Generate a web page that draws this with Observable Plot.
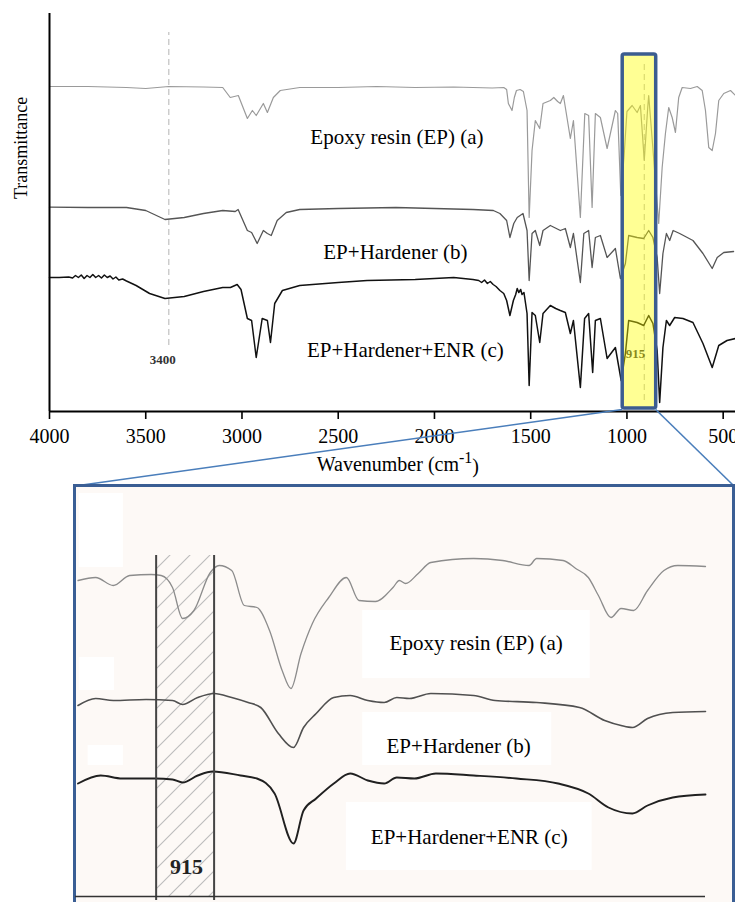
<!DOCTYPE html>
<html><head><meta charset="utf-8">
<script src="https://cdn.jsdelivr.net/npm/d3@7"></script>
<script src="https://cdn.jsdelivr.net/npm/@observablehq/plot@0.6"></script>
<style>
body{margin:0;background:#fff;}
#wrap{position:relative;width:735px;height:902px;overflow:hidden;background:#fff;}
#wrap > *{position:absolute;}
#wrap svg text{font-family:"Liberation Serif","Times New Roman",Times,serif !important;}
</style></head><body><div id="wrap"></div>
<script>
// ---------- DATA (wavenumber cm-1, offset transmittance a.u.) ----------
const epA = [[4000,325],[3800,325],[3600,324],[3500,323],[3380,325],[3200,324.5],[3100,324],[3061,314],[3019,316],[2972,293],[2946,301],[2926,296],[2889,308],[2868,299],[2837,314],[2801,321],[2700,324],[2500,324],[2300,325],[2100,324],[1900,324.5],[1700,323.5],[1640,324],[1625,322],[1616,308],[1597,301],[1585,314],[1574,321],[1555,322],[1538,320],[1519,301],[1508,194],[1493,261],[1476,291],[1453,283],[1436,308],[1398,311],[1380,314],[1360,310],[1346,308],[1330,316],[1294,273],[1278,291],[1242,194],[1219,298],[1199,296],[1181,204],[1164,298],[1138,294],[1103,263],[1060,301],[1048,298],[1032,216],[1015,255],[1000,300],[973,306],[947,299],[930,306],[910,251],[892,304],[887,316],[870,275],[835,188],[817,244],[800,278],[783,304],[765,294],[748,279],[731,314],[713,324],[670,323],[635,325],[609,321],[592,301],[575,264],[557,261],[540,278],[523,311],[497,318],[462,321],[436,316]];
const epHard = [[4000,204.3],[3800,204],[3600,204],[3500,201],[3400,192],[3300,194],[3200,198],[3100,201],[3035,200],[3020,202],[2972,181],[2950,179],[2921,168],[2889,181],[2868,178],[2848,176],[2817,191],[2770,199],[2700,202],[2500,203],[2200,204],[2000,203],[1800,202],[1694,201],[1660,198],[1625,191],[1608,174],[1588,188],[1570,194],[1540,198],[1519,181],[1508,131],[1493,178],[1476,181],[1453,166],[1436,181],[1398,186],[1346,181],[1320,183],[1294,164],[1278,178],[1242,129],[1224,178],[1199,181],[1181,144],[1164,174],[1138,176],[1103,154],[1060,163],[1034,133],[1008,148],[991,176],[947,174],[913,173],[887,181],[865,174],[843,154],[830,118],[813,158],[795,178],[778,171],[760,181],[726,178],[657,171],[605,158],[557,143],[531,154],[497,159],[446,160]];
const epHardEnr = [[4000,134],[3950,134],[3900,134.5],[3880,133.5],[3865,136],[3850,134],[3835,136.5],[3820,133],[3805,136],[3790,134],[3775,137],[3760,134],[3745,136],[3730,133.5],[3715,136.5],[3700,134],[3685,135.5],[3670,132.5],[3655,134.5],[3640,131.5],[3620,132.5],[3600,130.5],[3550,126],[3480,118],[3400,113],[3300,115],[3200,120],[3100,124],[3060,124],[3025,127],[3005,122],[2972,93],[2950,91],[2926,54],[2895,93],[2868,91],[2852,69],[2830,108],[2790,121],[2700,126],[2500,129],[2350,131],[2100,132],[2000,133],[1900,134],[1800,132],[1770,131],[1755,129],[1740,131.5],[1725,128],[1710,130],[1695,127],[1680,125],[1660,121],[1640,118],[1625,111],[1608,96],[1590,111],[1578,117],[1570,123],[1562,119],[1552,122],[1545,117],[1535,119],[1519,98],[1508,26],[1493,99],[1476,96],[1453,69],[1436,98],[1398,106],[1370,103],[1346,101],[1320,99],[1294,78],[1278,91],[1242,24],[1220,93],[1199,98],[1178,39],[1164,91],[1138,93],[1103,53],[1060,64],[1030,31],[1008,58],[991,91],[947,89],[913,86],[887,96],[865,88],[843,61],[830,9],[813,64],[795,91],[778,86],[752,94],[709,93],[657,89],[605,68],[557,44],[523,66],[480,71],[436,73]];

// inset (1000-500 cm-1)
const inA = [[998,316],[984,319],[970,311],[957,321],[940,322],[932,321],[923,309],[915,278],[906,286],[893,324],[886,331],[876,326],[866,291],[856,289],[846,266],[836,226],[829,208],[821,243],[812,273],[799,299],[785,319],[775,296],[762,295],[748,309],[743,316],[738,313],[728,323],[718,334],[684,338],[661,336],[640,331],[634,338],[613,336],[603,328],[593,319],[585,301],[575,279],[567,288],[557,286],[546,306],[533,326],[522,331],[500,330]];
const inB = [[998,191],[984,198],[970,196],[944,197],[923,196],[915,192],[903,199],[890,203],[876,199],[863,194],[853,189],[839,163],[827,149],[819,169],[809,183],[795,199],[782,201],[768,196],[755,194],[745,199],[735,198],[718,203],[684,201],[667,196],[634,194],[600,189],[580,176],[567,171],[558,169],[546,178],[526,184],[500,185]];
const inC = [[998,113],[980,121],[963,118],[937,118],[923,117],[915,114],[903,121],[891,125],[869,121],[856,118],[842,103],[827,53],[819,86],[809,98],[795,113],[782,123],[768,116],[755,113],[745,119],[731,118],[714,123],[684,121],[650,118],[617,113],[593,103],[577,89],[558,83],[546,91],[526,99],[500,102]];

const seriesNames = ["Epoxy resin (EP) (a)", "EP+Hardener (b)", "EP+Hardener+ENR (c)"];
const xTicks = [4000, 3500, 3000, 2500, 2000, 1500, 1000, 500];
const topLabelPos = [[2195, 274], [2203, 159], [2151, 61]];
const markerLines = [[3380, 66, 379], [910, 11, 351]];
const markerText = [["3400", 3412, 51.5], ["915", 956, 58]];
const zoomWindow = [1022, 848];
const bandWindow = [936, 890];
const insetLabelPos = [[682, 253], [696, 150], [687.5, 59]];
const insetLabelBoxes = [[772, 591.5, 218, 286], [772, 622, 131, 184], [785, 590, 26, 94]];
const insetPatches = [[997, 962, 329, 403], [997, 969, 206, 239], [990, 962, 131, 151]];

// ---------- BUILD ----------
const serif = '"Liberation Serif","Times New Roman",Times,serif';
const toRows = (arr) => arr.map(([w, t]) => ({w, t}));
const colsTop = ["#9a9a9a", "#555555", "#111111"];
const wTop = [1.2, 1.3, 1.5];
const topSeries = [epA, epHard, epHardEnr];

const mainChart = Plot.plot({
  width: 735, height: 480,
  marginLeft: 49, marginRight: 0, marginTop: 13, marginBottom: 69,
  style: {fontFamily: serif, background: "transparent", overflow: "visible", color: "#000"},
  x: {domain: [4000, 436]},
  y: {domain: [0, 398], axis: null},
  marks: [
    Plot.ruleX(markerLines, {x: d => d[0], y1: d => d[1], y2: d => d[2], stroke: "#b4b4b4", strokeWidth: 1, strokeDasharray: "6,4"}),
    ...topSeries.map((s, i) => Plot.line(toRows(s), {x: "w", y: "t", stroke: colsTop[i], strokeWidth: wTop[i], curve: "linear"})),
    Plot.text(markerText, {x: d => d[1], y: d => d[2], text: d => d[0], fontWeight: "bold", fontSize: 13, fill: "#333", fontFamily: serif}),
    Plot.rect([zoomWindow], {x1: d => d[0], x2: d => d[1], y1: 3, y2: 357, fill: "#ffff00", fillOpacity: 0.42, stroke: "#3c5d90", strokeWidth: 3.5, rx: 2}),
    Plot.ruleX([4000], {stroke: "#000", strokeWidth: 2}),
    Plot.ruleY([0], {stroke: "#000", strokeWidth: 2}),
    Plot.axisX({ticks: xTicks, tickFormat: d => String(d), tickSize: 8, tickPadding: 9, fontSize: 20, fontFamily: serif, strokeWidth: 1.6, label: null}),
    Plot.text(seriesNames, {x: (d, i) => topLabelPos[i][0], y: (d, i) => topLabelPos[i][1], text: d => d, fontSize: 21, fill: "#000", fontFamily: serif}),
    Plot.text(["Transmittance"], {frameAnchor: "left", dx: -28, dy: -13.5, rotate: -90, text: d => d, fontSize: 18, fill: "#000", fontFamily: serif}),
    Plot.text(["Wavenumber (cm-1)"], {x: 2190, frameAnchor: "bottom", dy: 59, text: d => d, fontSize: 20, fill: "#000", fontFamily: serif})
  ]
});

// superscript in the axis title
d3.select(mainChart).selectAll("text").filter(function() { return this.textContent === "Wavenumber (cm-1)"; })
  .each(function() {
    const t = d3.select(this);
    t.text(null);
    t.append("tspan").text("Wavenumber (cm");
    t.append("tspan").attr("dy", "-0.5em").attr("font-size", 16).text("-1");
    t.append("tspan").attr("dy", "0.5em").text(")");
  });

const wrap = document.getElementById("wrap");
mainChart.style.left = "0px"; mainChart.style.top = "0px";
wrap.appendChild(mainChart);

// connectors between the highlighted window and the inset
const sx = mainChart.scale("x"), sy = mainChart.scale("y");
const conn = d3.create("svg").attr("width", 735).attr("height", 902).style("left", "0px").style("top", "0px");
const yb = sy.apply(3) + 1.5;
conn.append("line").attr("x1", sx.apply(zoomWindow[0])).attr("y1", yb).attr("x2", 75).attr("y2", 486)
  .attr("stroke", "#4a7ebb").attr("stroke-width", 1.6);
conn.append("line").attr("x1", sx.apply(zoomWindow[1])).attr("y1", yb).attr("x2", 733).attr("y2", 485)
  .attr("stroke", "#4a7ebb").attr("stroke-width", 1.6);
wrap.appendChild(conn.node());

// inset frame
const frame = document.createElement("div");
frame.style.cssText = "left:73px;top:483.5px;width:662px;height:440px;box-sizing:border-box;border:3.5px solid #3a5e94;background:#fdf9f6;";
wrap.appendChild(frame);

const colsIn = ["#8c8c8c", "#505050", "#202020"];
const wIn = [1.3, 1.6, 1.9];
const inSeries = [inA, inB, inC];

const insetChart = Plot.plot({
  width: 735, height: 417,
  marginLeft: 75, marginRight: 30, marginTop: 0, marginBottom: 6,
  style: {fontFamily: serif, background: "transparent", overflow: "visible"},
  x: {domain: [1000, 500], axis: null},
  y: {domain: [0, 411], axis: null},
  marks: [
    Plot.rect(insetPatches, {x1: d => d[0], x2: d => d[1], y1: d => d[2], y2: d => d[3], fill: "#ffffff"}),
    Plot.rect([bandWindow], {x1: d => d[0], x2: d => d[1], y1: 0, y2: 341, fill: "url(#hatch)"}),
    Plot.rect(insetLabelBoxes, {x1: d => d[0], x2: d => d[1], y1: d => d[2], y2: d => d[3], fill: "#ffffff"}),
    ...inSeries.map((s, i) => Plot.line(toRows(s), {x: "w", y: "t", stroke: colsIn[i], strokeWidth: wIn[i], curve: "monotone-x"})),
    Plot.ruleX(bandWindow, {y1: -4, y2: 341, stroke: "#444", strokeWidth: 2}),
    Plot.ruleY([0], {stroke: "#333", strokeWidth: 1.5}),
    Plot.text(seriesNames, {x: (d, i) => insetLabelPos[i][0], y: (d, i) => insetLabelPos[i][1], text: d => d, fontSize: 21, fill: "#000", fontFamily: serif}),
    Plot.text(["915"], {x: 912, y: 30, text: d => d, fontWeight: "bold", fontSize: 22, fill: "#222", fontFamily: serif})
  ]
});
const defs = d3.select(insetChart).insert("defs", ":first-child");
const pat = defs.append("pattern").attr("id", "hatch").attr("patternUnits", "userSpaceOnUse").attr("width", 20).attr("height", 20);
pat.append("path").attr("d", "M-5,5 L5,-5 M0,20 L20,0 M15,25 L25,15").attr("stroke", "#bdbdbd").attr("stroke-width", 1.2);
insetChart.style.left = "0px"; insetChart.style.top = "485px";
wrap.appendChild(insetChart);
</script></body></html>
